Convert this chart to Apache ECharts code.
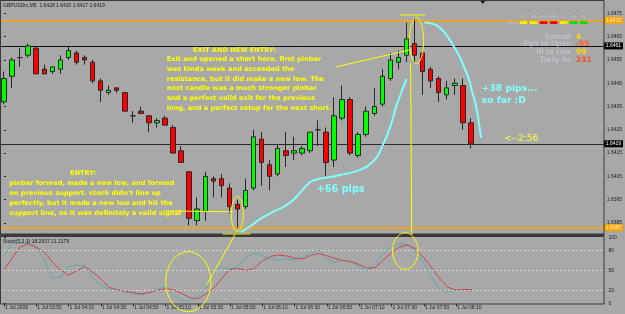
<!DOCTYPE html>
<html><head><meta charset="utf-8">
<script src="https://cdn.jsdelivr.net/npm/echarts@6/dist/echarts.min.js"></script>
<style>html,body{margin:0;padding:0;background:#a8a8a8;}#c{width:625px;height:314px;}</style>
</head><body><div id="c"></div>
<script>
// ---------- DATA ----------
const symbol = 'GBPUSDm,M5';
const times = ['03:30','03:35','03:40','03:45','03:50','03:55','04:00','04:05','04:10','04:15','04:20','04:25','04:30','04:35','04:40','04:45','04:50','04:55','05:00','05:05','05:10','05:15','05:20','05:25','05:30','05:35','05:40','05:45','05:50','05:55','06:00','06:05','06:10','06:15','06:20','06:25','06:30','06:35','06:40','06:45','06:50','06:55','07:00','07:05','07:10','07:15','07:20','07:25','07:30','07:35','07:40','07:45','07:50','07:55','08:00','08:05','08:10','08:15','08:20'];
const futureSlots = ['08:25','08:30','08:35','08:40','08:45','08:50','08:55','09:00','09:05','09:10','09:15','09:20','09:25','09:30','09:35','09:40'];
const opens = [1.6437,1.6448,1.6456,1.6457,1.6460,1.6451,1.6450,1.6451,1.6456,1.6458,
 1.6456,1.6454,1.6446,1.6441,1.6443,1.6441,1.6431,1.6433,1.6431,1.6428,
 1.6430,1.6426,1.6416,1.6407,1.6386,1.6390,1.6404,1.6404,1.6400,1.6393,
 1.6392,1.6400,1.6421,1.6410,1.6406,1.6416,1.6415,1.6415,1.6416,1.6425,
 1.6424,1.6412,1.6430,1.6438,1.6414,1.6423,1.6432,1.6436,1.6447,1.6454,
 1.6457,1.6462,1.6458,1.6451,1.6447,1.6440,1.6444,1.6444,1.6428];
const closes = [1.6447,1.6455,1.6456,1.6461,1.6449,1.6449,1.6452,1.6455,1.6459,1.6454,
 1.6455,1.6446,1.6442,1.6442,1.6442,1.6433,1.6431,1.6432,1.6428,1.6429,
 1.6427,1.6415,1.6411,1.6387,1.6391,1.6405,1.6403,1.6401,1.6392,1.6391,
 1.6399,1.6422,1.6411,1.6405,1.6417,1.6414,1.6416,1.6417,1.6424,1.6425,
 1.6411,1.6431,1.6438,1.6415,1.6423,1.6433,1.6435,1.6448,1.6455,1.6456,
 1.6464,1.6457,1.6450,1.6446,1.6441,1.6443,1.6445,1.6428,1.6419];
const lows = [1.6436,1.6443,1.6452,1.6456,1.6449,1.6449,1.6449,1.6449,1.6455,1.6453,
 1.6453,1.6445,1.6437,1.6440,1.6441,1.6433,1.6428,1.6432,1.6424,1.6426,
 1.6427,1.6415,1.6411,1.6384,1.6384,1.6386,1.6396,1.6396,1.6389,1.6383,
 1.6391,1.6399,1.6401,1.6399,1.6405,1.6409,1.6412,1.6414,1.6415,1.6418,
 1.6405,1.6409,1.6429,1.6414,1.6413,1.6422,1.6431,1.6435,1.6446,1.6451,
 1.6454,1.6454,1.6440,1.6443,1.6437,1.6438,1.6440,1.6425,1.6417];
const highs = [1.6450,1.6456,1.6460,1.6462,1.6461,1.6453,1.6452,1.6457,1.6461,1.6459,
 1.6457,1.6455,1.6447,1.6444,1.6443,1.6441,1.6433,1.6435,1.6431,1.6430,
 1.6431,1.6427,1.6418,1.6407,1.6396,1.6407,1.6405,1.6406,1.6402,1.6395,
 1.6404,1.6425,1.6424,1.6412,1.6419,1.6424,1.6422,1.6418,1.6424,1.6429,
 1.6426,1.6439,1.6444,1.6439,1.6424,1.6435,1.6443,1.6451,1.6458,1.6459,
 1.6471,1.6473,1.6459,1.6452,1.6448,1.6446,1.6447,1.6447,1.6430];
const stochMain = [72,90.9,92.1,90.9,84.1,65.9,38.2,40.2,55.3,58.3,
 57.6,38.6,28,21.5,19.7,17.4,14.4,13.6,16.7,22,
 25.5,12.1,4.5,4.2,9.8,22,50.8,55.8,52.3,56.8,
 70.5,76.5,72.7,66.7,65.9,67,66.2,70.5,76.5,81.1,
 67,62.1,65.2,62.9,56.1,48.2,59.8,76.5,86.4,90.9,
 88.6,78,61.4,39.4,21.2,17.9,19.7,21.5,18.2937];
const stochSignal = [50.8,68.9,85.6,90.2,85.6,77.3,62.9,50.8,43.2,49.2,
 56.1,47.7,37.1,24.5,20.8,18.9,16.7,14.4,16.7,20,
 22.7,20.8,15.2,9.1,6.8,14.4,23.5,38.6,51.5,53,
 50,53.8,64.4,71.2,73.5,72,68.9,67.4,73,75.8,
 72.3,68.2,65.2,63.2,59.1,53.3,54.5,65.9,77.3,85.6,
 88.6,82.6,69.7,53.8,37.1,24.5,20.5,21.2,21.2179];
const priceTicks = [1.6385,1.6395,1.6405,1.6415,1.6425,1.6435,1.6445,1.6455,1.6465,1.6475];
const stochTicks = [0,20,50,80,100];
const stochLevels = [20,50,80];
const orangeLevels = [1.6472,1.6383];
const blackLevels = [1.6461];
// hand-drawn annotation curves in [bar index, price]
const curve66 = [[29.41,1.63811],[30.64,1.63837],[31.88,1.63869],[33.36,1.63897],[34.84,1.63921],[36.20,1.63957],[37.18,1.63996],[38.05,1.64026],[39.03,1.64039],[40.52,1.64047],[41.75,1.64056],[42.98,1.64065],[44.22,1.64078],[45.21,1.64095],[46.32,1.64133],[47.06,1.64185],[47.55,1.64223],[48.17,1.64283],[48.66,1.64344],[49.15,1.64391],[49.65,1.64438],[50.02,1.64468]];
const curve38 = [[52.24,1.64711],[53.10,1.64706],[53.72,1.64698],[54.46,1.64678],[55.20,1.64646],[56.06,1.64597],[56.68,1.64558],[57.30,1.64507],[57.79,1.64464],[58.16,1.64412],[58.53,1.64369],[58.84,1.64314],[59.09,1.64258],[59.28,1.64215]];
const exitTitle = 'EXIT AND NEW ENTRY:';
const exitLines = ['Exit and opened a short here. first pinbar','was kinda week and exceeded the','resistance, but it did make a new low. The','next candle was a much stronger pinbar','and a perfect valid exit for the previous','long, and a perfect setup for the next short.'];
const entryTitle = 'ENTRY:';
const entryLines = ['pinbar formed, made a new low, and formed','on previous support. stoch didn\'t line up','perfectly, but it made a new low and hit the','support line, so it was definitely a valid signal'];
const infoLabels = ['Spread','Pips to Open','Hi to Low','Daily Av'];
const infoValues = ['4','-55','99','231'];
const infoColors = ['#ffd700','#ff5a28','#ffd700','#ff4a20'];
const tfLabels = ['M1','M5','M15','M30','H1','H4','D1'];
const tfColors = ['#f8f000','#f8f000','#f00000','#f00000','#f8f000','#00e000','#00e000'];

// ---------- CHART ----------
const allSlots = times.concat(futureSlots);
const N = allSlots.length;
const candles = times.map((t,i)=>[opens[i],closes[i],lows[i],highs[i]]);
const GL = -2.35, GR = 625 - 605.38;
const PMIN = 1.638028, PMAX = 1.647942;
const lblShow = (i)=> i % 4 === 0 && i < times.length;
const chart = echarts.init(document.getElementById('c'), null, {renderer:'canvas'});
const tickFont = {fontSize:5, fontFamily:'Liberation Sans', color:'#1e1e1e'};
const lvlLabel = (bg, fg)=>({show:true, position:'end', distance:0, formatter:p=>Number(p.value).toFixed(4), backgroundColor:bg, color:fg, fontSize:5, fontFamily:'Liberation Sans', padding:[1,2,1,2]});
const levelLines = [].concat(
  orangeLevels.map(v=>({yAxis:v,lineStyle:{color:'#ffa500',width:1.5,type:'solid'},label:lvlLabel('#ffa500','#fff2d8')})),
  blackLevels.map(v=>({yAxis:v,lineStyle:{color:'#111111',width:1,type:'solid'},label:lvlLabel('#000000','#ffffff')})),
  [{yAxis:closes[closes.length-1],lineStyle:{color:'#2a2a2a',width:1,type:'solid'},label:lvlLabel('#000000','#ffffff')}]
);
const option = {
  animation:false,
  backgroundColor:'#a8a8a8',
  grid:[{left:GL,right:GR,top:3,height:231,show:false},{left:GL,right:GR,top:237.5,height:66,show:false}],
  xAxis:[
    {type:'category',gridIndex:0,data:allSlots,axisLine:{show:false},axisTick:{show:false},axisLabel:{show:false},splitLine:{show:false}},
    {type:'category',gridIndex:1,data:allSlots,axisLine:{show:false},
     axisTick:{show:true,interval:lblShow,alignWithLabel:true,length:3,lineStyle:{color:'#2a2a2a'}},
     axisLabel:Object.assign({interval:lblShow,align:'left',margin:2,padding:[0,0,0,1],hideOverlap:false,
       formatter:(v,i)=> i===0 ? '1 Jul 2009' : '1 Jul '+v}, tickFont),splitLine:{show:false}},
    {type:'value',gridIndex:0,min:-0.5,max:N-0.5,show:false},
    {type:'value',gridIndex:1,min:-0.5,max:N-0.5,show:false}
  ],
  yAxis:[
    {type:'value',gridIndex:0,position:'right',min:PMIN,max:PMAX,axisLine:{show:false},
     axisTick:{show:true,customValues:priceTicks,length:2,lineStyle:{color:'#2a2a2a'}},
     axisLabel:Object.assign({customValues:priceTicks,formatter:v=>Number(v).toFixed(4),margin:3},tickFont),splitLine:{show:false}},
    {type:'value',gridIndex:1,position:'right',min:0,max:100,axisLine:{show:false},
     axisTick:{show:true,customValues:stochTicks,length:2,lineStyle:{color:'#2a2a2a'}},
     axisLabel:Object.assign({customValues:stochTicks,margin:3},tickFont),splitLine:{show:false}}
  ],
  series:[
    {type:'candlestick',xAxisIndex:0,yAxisIndex:0,data:candles,barWidth:5,silent:true,z:3,
     itemStyle:{color:'#00ff00',color0:'#ff0000',borderColor:'#262626',borderColor0:'#262626',borderColorDoji:'#262626',borderWidth:1}},
    {type:'line',xAxisIndex:2,yAxisIndex:0,data:curve66,smooth:0.3,symbol:'none',silent:true,z:5,lineStyle:{color:'#80ffff',width:2},
     markLine:{silent:true,symbol:'none',animation:false,precision:5,z:2,data:levelLines}},
    {type:'line',xAxisIndex:2,yAxisIndex:0,data:curve38,smooth:0.3,symbol:'none',silent:true,z:5,lineStyle:{color:'#80ffff',width:2}},
    {type:'line',xAxisIndex:1,yAxisIndex:1,data:stochMain,symbol:'none',silent:true,lineStyle:{color:'#5faaaa',width:1},
     markLine:{silent:true,symbol:'none',animation:false,label:{show:false},lineStyle:{color:'#d4d4d4',type:[2,2],width:1},data:stochLevels.map(v=>({yAxis:v}))}},
    {type:'line',xAxisIndex:1,yAxisIndex:1,data:stochSignal,symbol:'none',silent:true,lineStyle:{color:'#c84848',width:1}}
  ]
};
chart.setOption(option);

// ---------- ANNOTATIONS ----------
const P = (i,p)=>chart.convertToPixel({xAxisIndex:2,yAxisIndex:0},[i,p]);
const S = (i,v)=>chart.convertToPixel({xAxisIndex:3,yAxisIndex:1},[i,v]);
const G = [];
const txt = (x,y,text,font,fill,align)=>G.push({type:'text',x,y,silent:true,z:100,style:{text,font,fill,align:align||'left',verticalAlign:'middle'}});
const seg = (a,b,stroke,w)=>G.push({type:'line',silent:true,z:90,shape:{x1:a[0],y1:a[1],x2:b[0],y2:b[1]},style:{stroke,lineWidth:w||1}});
const ell = (conv,c,r,stroke,w)=>{const a=conv(c[0],c[1]),b=conv(c[0]+r[0],c[1]+r[1]);const rx=Math.abs(b[0]-a[0]),ry=Math.abs(b[1]-a[1]);const pts=[];for(let k=0;k<64;k++){const t=k/64*2*Math.PI;pts.push([a[0]+rx*Math.cos(t),a[1]+ry*Math.sin(t)]);}G.push({type:'polygon',silent:true,z:90,shape:{points:pts},style:{fill:'none',stroke,lineWidth:w||1}});};

// frames
G.push({type:'rect',silent:true,z:80,shape:{x:0.5,y:0.5,width:603.5,height:233.5},style:{fill:'none',stroke:'#3a3a3a',lineWidth:1}});
G.push({type:'rect',silent:true,z:80,shape:{x:0,y:234,width:604.5,height:2.2},style:{fill:'#3a3a3a'}});
G.push({type:'rect',silent:true,z:80,shape:{x:0.5,y:236.5,width:603.5,height:67.5},style:{fill:'none',stroke:'#3a3a3a',lineWidth:1}});
G.push({type:'polygon',silent:true,z:80,shape:{points:[[480.5,1],[485,1],[482.75,4]]},style:{fill:'#111'}});

// headers
txt(3,6,symbol+'  '+opens[58].toFixed(4)+' '+highs[58].toFixed(4)+' '+lows[58].toFixed(4)+' '+closes[58].toFixed(4),'5px "Liberation Sans"','#1a1a1a');
txt(3,242,'Stoch(5,3,3) '+stochMain[58].toFixed(4)+' '+stochSignal[58].toFixed(4),'5px "Liberation Sans"','#1a1a1a');

// yellow drawings
const Y='#ffff00';
ell(P,[51.25,1.64633],[0.864,0.000987],Y,1);
seg(P(49.15,1.64743),P(52.36,1.64743),Y,1);
seg(P(41.26,1.64520),P(50.39,1.64593),Y,1);
seg(P(50.51,1.64535),S(50.51,103.8),Y,1);
ell(S,[49.71,79.5],[1.58,27.7],Y,1);
ell(P,[28.98,1.63889],[0.74,0.000751],Y,1);
seg(P(20.15,1.63902),P(28.42,1.63898),Y,1);
seg(P(27.15,1.63803),P(30.64,1.63803),Y,1);
seg(S(28.58,103.8),S(25.09,28.0),Y,1);
ell(S,[22.83,33.0],[2.80,45.5],Y,1);

// yellow texts
const yf='bold 6.6px "DejaVu Sans"';
txt(193,50,exitTitle,yf,Y);
exitLines.forEach((l,k)=>txt(166.7,59.3+k*9.75,l,yf,Y));
txt(70,173.3,entryTitle,yf,Y);
entryLines.forEach((l,k)=>txt(9.3,183.3+k*10,l,yf,Y));
txt(504,138.3,'<--2:56','9px "DejaVu Sans"','#ffff30');

// cyan texts
const cf='bold 9.2px "DejaVu Sans"', C='#80ffff';
txt(481.7,88.3,'+38 pips...',cf,C);
txt(481.7,101,'so far :D',cf,C);
txt(316.7,189,'+66 pips','bold 9.7px "DejaVu Sans"',C);

// info panel
infoLabels.forEach((l,k)=>{
  txt(571,36.7+k*7.8,l,'7.5px "DejaVu Sans"','#c6cadb','right');
  txt(576,36.7+k*7.8,infoValues[k],'bold 7.5px "DejaVu Sans"',infoColors[k],'left');
});
txt(506.5,22.7,'Trend','4px "DejaVu Sans"','#b8c0d8');
tfLabels.forEach((l,k)=>{
  const cx = 523.5 + k*10.05;
  txt(cx,16.7,l,'4px "DejaVu Sans"','#b8c0d8','center');
  G.push({type:'rect',silent:true,z:95,shape:{x:cx-3.8,y:21.2,width:7.6,height:2.8},style:{fill:tfColors[k]}});
});

chart.setOption({graphic:{elements:G}});
</script></body></html>
